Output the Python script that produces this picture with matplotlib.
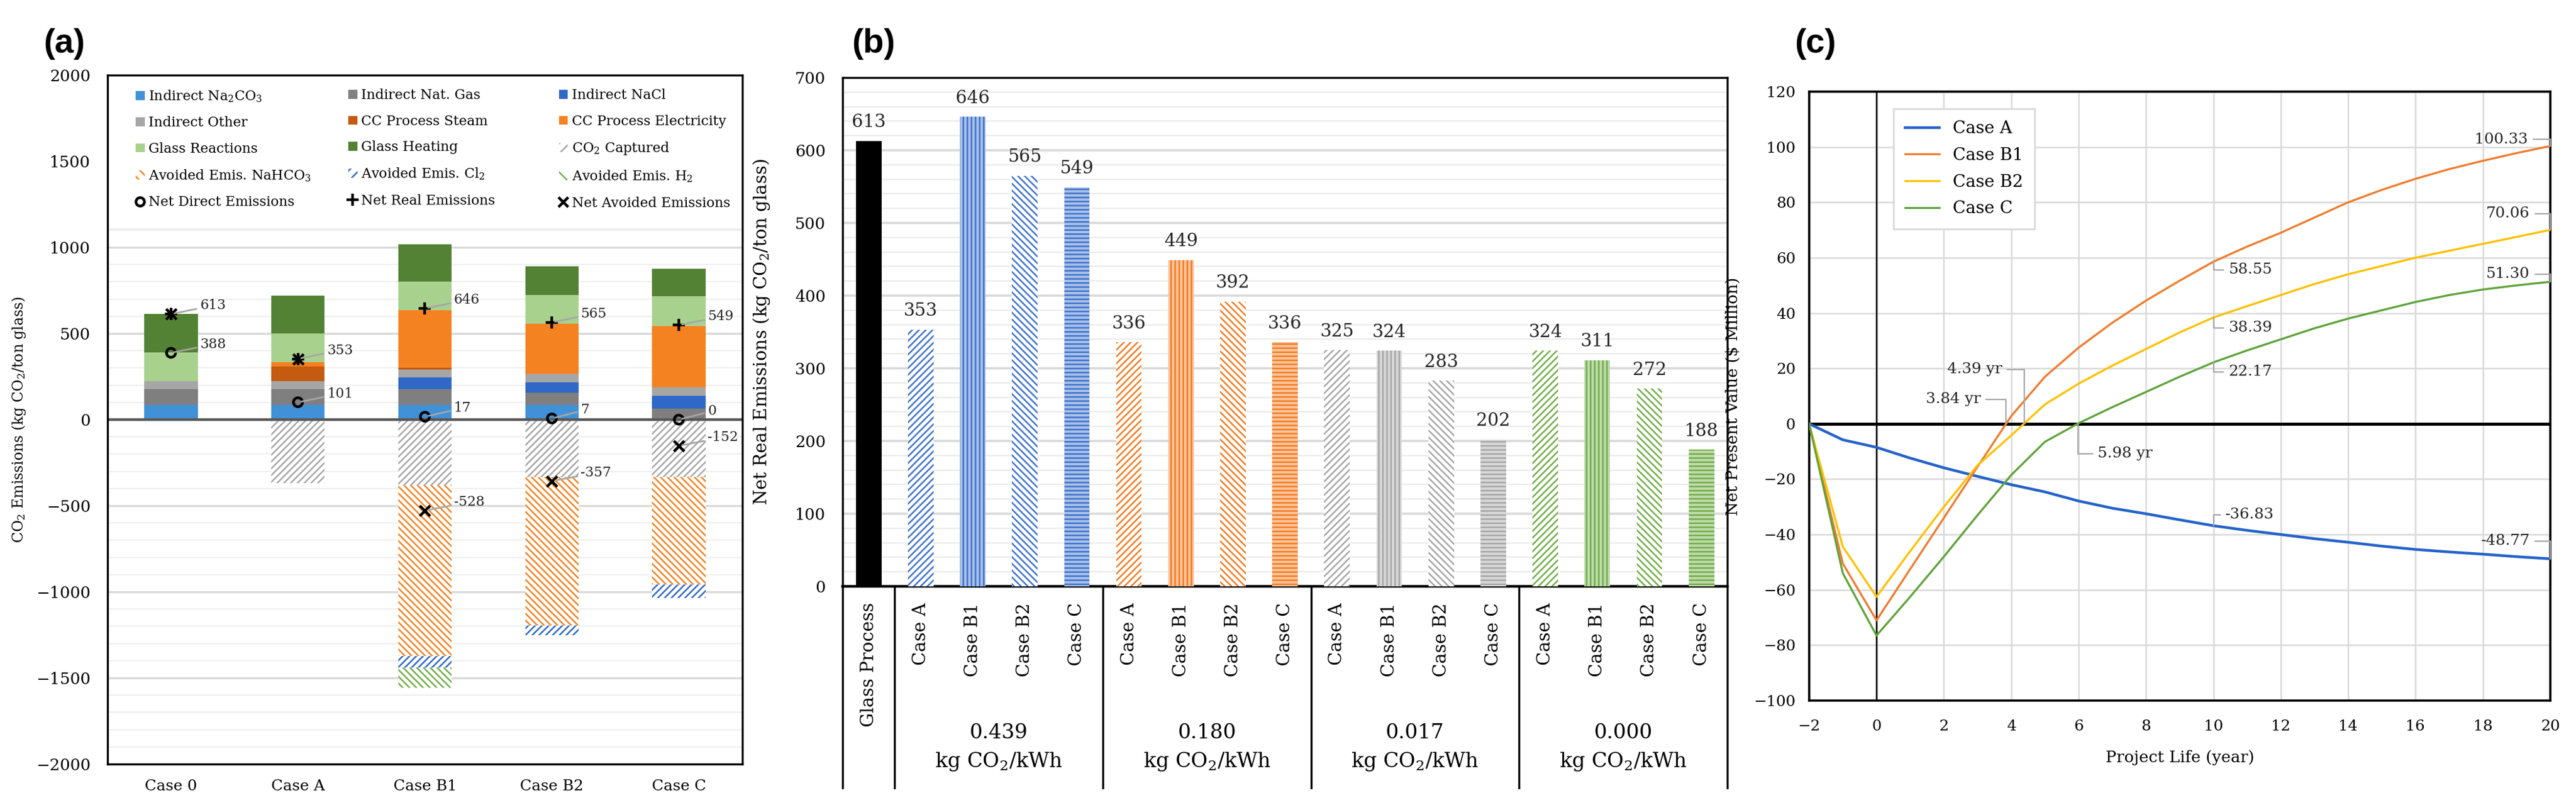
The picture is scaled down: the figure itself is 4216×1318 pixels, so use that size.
"""Three-panel CO2 emissions / net real emissions / NPV figure."""

import matplotlib

matplotlib.use("Agg")
import matplotlib.pyplot as plt
import numpy as np
from matplotlib.colors import to_rgb
from matplotlib.lines import Line2D
from matplotlib.patches import Patch, Rectangle
from matplotlib.ticker import MultipleLocator

plt.rcParams["font.family"] = ["DejaVu Serif"]
plt.rcParams["mathtext.fontset"] = "dejavuserif"
plt.rcParams["hatch.linewidth"] = 0.9

# ---------------- panel (a): stacked emissions breakdown ----------------
cases_a = ["Case 0", "Case A", "Case B1", "Case B2", "Case C"]
indirect_na2co3 = [86, 86, 86, 86, 0]
indirect_natgas = [91, 91, 91, 71, 63]
indirect_nacl = [0, 0, 69, 59, 77]
indirect_other = [45, 45, 45, 50, 47]
cc_steam = [0, 86, 11, 0, 0]
cc_electricity = [0, 26, 332, 290, 357]
glass_reactions = [169, 168, 168, 169, 174]
glass_heating = [222, 219, 215, 165, 158]
co2_captured = [0, -368, -383, -334, -334]
avoided_nahco3 = [0, 0, -990, -860, -623]
avoided_cl2 = [0, 0, -66, -59, -80]
avoided_h2 = [0, 0, -117, 0, 0]
net_direct = [388, 101, 17, 7, 0]
net_real = [613, 353, 646, 565, 549]
net_avoided = [613, 353, -528, -357, -152]

# ---------------- panel (b): net real emissions by grid intensity ----------------
glass_process_label = "Glass Process"
glass_process_value = 613
grid_factors = ["0.439", "0.180", "0.017", "0.000"]
case_names = ["Case A", "Case B1", "Case B2", "Case C"]
net_real_by_factor = [
    [353, 646, 565, 549],
    [336, 449, 392, 336],
    [325, 324, 283, 202],
    [324, 311, 272, 188],
]

# ---------------- panel (c): net present value ----------------
years = list(range(-2, 21))
npv_case_a = [0, -5.8, -8.5, -12.4, -15.9, -19.0, -22.0, -24.6, -27.9, -30.5, -32.5, -34.7,
              -36.83, -38.5, -40.0, -41.5, -42.8, -44.2, -45.4, -46.3, -47.1, -48.0, -48.77]
npv_case_b1 = [0, -50.5, -71.0, -52.5, -34.0, -15.5, 2.8, 17.0, 27.5, 36.5, 44.5, 51.7,
               58.55, 64.0, 69.0, 74.5, 80.0, 84.5, 88.5, 92.0, 95.0, 97.8, 100.33]
npv_case_b2 = [0, -44.4, -62.5, -46.0, -30.0, -15.0, -4.2, 7.0, 14.5, 21.0, 27.0, 33.0,
               38.39, 42.5, 46.5, 50.5, 54.0, 57.0, 60.0, 62.5, 65.0, 67.5, 70.06]
npv_case_c = [0, -54.0, -76.5, -62.5, -48.0, -33.0, -18.5, -6.5, 0.2, 6.0, 11.5, 17.0,
              22.17, 26.5, 30.5, 34.5, 38.0, 41.0, 44.0, 46.5, 48.5, 50.0, 51.30]
payback_years = {"Case B1": 3.84, "Case B2": 4.39, "Case C": 5.98}


def _tint(colour, amount=0.55):
    r, g, b = to_rgb(colour)
    return (r + (1 - r) * amount, g + (1 - g) * amount, b + (1 - b) * amount)


def _panel_a_legend_rows():
    swatch = dict(linewidth=0)
    return [
        Patch(facecolor="#4191D8", label="Indirect Na$_2$CO$_3$", **swatch),
        Patch(facecolor="#7F7F7F", label="Indirect Nat. Gas", **swatch),
        Patch(facecolor="#2F68C6", label="Indirect NaCl", **swatch),
        Patch(facecolor="#A6A6A6", label="Indirect Other", **swatch),
        Patch(facecolor="#C55A11", label="CC Process Steam", **swatch),
        Patch(facecolor="#F58220", label="CC Process Electricity", **swatch),
        Patch(facecolor="#A9D18E", label="Glass Reactions", **swatch),
        Patch(facecolor="#548235", label="Glass Heating", **swatch),
        Patch(facecolor="white", edgecolor="#A6A6A6", hatch="////", linewidth=0,
              label="CO$_2$ Captured"),
        Patch(facecolor="white", edgecolor="#F58220", hatch="\\\\\\\\", linewidth=0,
              label="Avoided Emis. NaHCO$_3$"),
        Patch(facecolor="white", edgecolor="#2F68C6", hatch="////", linewidth=0,
              label="Avoided Emis. Cl$_2$"),
        Patch(facecolor="white", edgecolor="#70AD47", hatch="\\\\\\\\", linewidth=0,
              label="Avoided Emis. H$_2$"),
        Line2D([0], [0], marker="o", color="none", markerfacecolor="none",
               markeredgecolor="black", markeredgewidth=1.6, markersize=5,
               label="Net Direct Emissions"),
        Line2D([0], [0], marker="+", color="none", markeredgecolor="black",
               markeredgewidth=1.6, markersize=7, label="Net Real Emissions"),
        Line2D([0], [0], marker="x", color="none", markeredgecolor="black",
               markeredgewidth=1.6, markersize=6, label="Net Avoided Emissions"),
    ]


def draw_panel_a(ax):
    x = np.arange(len(cases_a))
    width = 0.42
    positive = [
        (indirect_na2co3, "#4191D8"),
        (indirect_natgas, "#7F7F7F"),
        (indirect_nacl, "#2F68C6"),
        (indirect_other, "#A6A6A6"),
        (cc_steam, "#C55A11"),
        (cc_electricity, "#F58220"),
        (glass_reactions, "#A9D18E"),
        (glass_heating, "#548235"),
    ]
    negative = [
        (co2_captured, "#A6A6A6", "//////"),
        (avoided_nahco3, "#F58220", "\\\\\\\\\\\\"),
        (avoided_cl2, "#2F68C6", "//////"),
        (avoided_h2, "#70AD47", "\\\\\\\\\\\\"),
    ]
    bottom = np.zeros(len(cases_a))
    for values, colour in positive:
        values = np.asarray(values, dtype=float)
        ax.bar(x, values, width, bottom=bottom, color=colour, linewidth=0, zorder=3)
        bottom += values
    bottom = np.zeros(len(cases_a))
    for values, colour, hatch in negative:
        values = np.asarray(values, dtype=float)
        ax.bar(x, values, width, bottom=bottom, facecolor="white", edgecolor=colour,
               hatch=hatch, linewidth=0, zorder=3)
        bottom += values

    ax.scatter(x, net_direct, marker="o", s=28, facecolor="none", edgecolor="black",
               linewidth=1.6, zorder=5)
    ax.scatter(x, net_real, marker="+", s=55, color="black", linewidth=1.6, zorder=5)
    ax.scatter(x, net_avoided, marker="x", s=38, color="black", linewidth=1.6, zorder=5)

    # value labels with leader lines
    leader = dict(arrowstyle="-", color="#A6A6A6", lw=1.0, shrinkA=0, shrinkB=2)
    for i in range(len(cases_a)):
        shown = [net_real[i], net_direct[i]]
        if net_avoided[i] != net_real[i]:
            shown.append(net_avoided[i])
        for v in shown:
            ax.annotate(f"{v}", (x[i], v), xytext=(17, 5), textcoords="offset points",
                        ha="left", va="center", fontsize=8, color="#262626",
                        arrowprops=leader, zorder=6)

    ax.set_xlim(-0.5, len(cases_a) - 0.5)
    ax.set_ylim(-2000, 2000)
    ax.set_xticks(x)
    ax.set_xticklabels(cases_a, fontsize=9)
    ax.yaxis.set_major_locator(MultipleLocator(500))
    ax.yaxis.set_minor_locator(MultipleLocator(100))
    ax.tick_params(axis="y", which="both", length=0, pad=10, labelsize=9.5)
    ax.tick_params(axis="x", length=0, pad=9)
    ax.grid(axis="y", which="major", color="#D9D9D9", lw=1.2, zorder=0)
    ax.grid(axis="y", which="minor", color="#EFEFEF", lw=0.8, zorder=0)
    ax.axhline(0, color="#595959", lw=1.6, zorder=4)
    for spine in ax.spines.values():
        spine.set_color("black")
        spine.set_linewidth(1.2)
        spine.set_zorder(8)
    ax.set_ylabel("CO$_2$ Emissions (kg CO$_2$/ton glass)", fontsize=8.5)
    ax.yaxis.set_label_coords(-0.126, 0.5)

    # legend block across the top of the plot area
    legend_height = 0.2234
    ax.add_patch(Rectangle((0, 1 - legend_height), 1, legend_height, transform=ax.transAxes,
                           facecolor="white", edgecolor="none", zorder=6))
    ax.plot([0.005, 0.995], [1 - legend_height] * 2, transform=ax.transAxes,
            color="#EDEDED", lw=1.2, zorder=6)
    rows = _panel_a_legend_rows()
    ncol = 3
    column_x = [0.023, 0.358, 0.690]
    for c in range(ncol):
        handles = rows[c::ncol]
        leg = ax.legend(handles=handles, loc="upper left",
                        bbox_to_anchor=(column_x[c], 1.0), borderaxespad=0,
                        fontsize=8, handlelength=0.65, handleheight=0.65,
                        handletextpad=0.3, labelspacing=0.92, borderpad=1.0,
                        frameon=False)
        leg.set_zorder(7)
        if c < ncol - 1:
            ax.add_artist(leg)


def draw_panel_b(ax):
    width = 0.49
    group_colours = ["#3D72CC", "#F47B20", "#A6A6A6", "#70AD47"]
    case_hatches = ["//////", "|||||", "\\\\\\\\\\\\", "-----"]
    tinted = [False, True, False, True]

    ax.bar(0, glass_process_value, width, color="black", zorder=3)
    ax.annotate(f"{glass_process_value}", (0, glass_process_value), xytext=(0, 6),
                textcoords="offset points", ha="center", va="bottom", fontsize=10.5,
                color="#262626")
    xaxis = ax.get_xaxis_transform()
    ax.text(0, -0.032, glass_process_label, transform=xaxis, rotation=90,
            ha="center", va="top", fontsize=10.5)

    for gi, values in enumerate(net_real_by_factor):
        colour = group_colours[gi]
        for ci, v in enumerate(values):
            pos = 1 + gi * len(case_names) + ci
            face = _tint(colour) if tinted[ci] else "white"
            ax.bar(pos, v, width, facecolor=face, edgecolor=colour,
                   hatch=case_hatches[ci], linewidth=0, zorder=3)
            ax.annotate(f"{v}", (pos, v), xytext=(0, 6), textcoords="offset points",
                        ha="center", va="bottom", fontsize=10.5, color="#262626")
            ax.text(pos, -0.032, case_names[ci], transform=xaxis, rotation=90,
                    ha="center", va="top", fontsize=10.5)
        centre = 1 + gi * len(case_names) + (len(case_names) - 1) / 2
        ax.text(centre, -0.288, grid_factors[gi], transform=xaxis, ha="center",
                va="center", fontsize=12)
        ax.text(centre, -0.345, "kg CO$_2$/kWh", transform=xaxis, ha="center",
                va="center", fontsize=12)

    n_bars = 1 + len(grid_factors) * len(case_names)
    separators = [-0.5, 0.5] + [0.5 + len(case_names) * (g + 1) for g in range(len(grid_factors))]
    for sx in separators:
        ax.plot([sx, sx], [0, -0.396], transform=xaxis, color="black", lw=1.2,
                clip_on=False, zorder=4)

    ax.set_xlim(-0.5, n_bars - 0.5)
    ax.set_ylim(0, 700)
    ax.set_xticks([])
    ax.yaxis.set_major_locator(MultipleLocator(100))
    ax.yaxis.set_minor_locator(MultipleLocator(20))
    ax.tick_params(axis="y", which="both", length=0, pad=10, labelsize=9.5)
    ax.grid(axis="y", which="major", color="#D9D9D9", lw=1.3, zorder=0)
    ax.grid(axis="y", which="minor", color="#EBEBEB", lw=0.8, zorder=0)
    for spine in ax.spines.values():
        spine.set_color("black")
        spine.set_linewidth(1.2)
    ax.spines["bottom"].set_linewidth(1.6)
    ax.set_ylabel("Net Real Emissions (kg CO$_2$/ton glass)", fontsize=10.5)
    ax.yaxis.set_label_coords(-0.080, 0.5)


def draw_panel_c(ax):
    series = [
        ("Case A", npv_case_a, "#2563C9", 1.6),
        ("Case B1", npv_case_b1, "#F07C2E", 1.2),
        ("Case B2", npv_case_b2, "#FFC000", 1.2),
        ("Case C", npv_case_c, "#5FA33A", 1.2),
    ]
    for name, values, colour, lw in series:
        ax.plot(years, values, color=colour, lw=lw, label=name, zorder=4)

    leader = dict(arrowstyle="-", color="#A6A6A6", lw=0.8, shrinkA=1, shrinkB=0,
                  connectionstyle="angle,angleA=0,angleB=90,rad=0")
    end_offsets = {"Case A": (-12, 10.4), "Case B1": (-13, 4), "Case B2": (-12, 9.6),
                   "Case C": (-12, 4.5)}
    mid_offsets = {"Case A": (7, 6.4), "Case B1": (9, -4.8), "Case B2": (9, -6),
                   "Case C": (9, -5.5)}
    pay_offsets = {"Case B1": ((-14.8, 14.4), "right"), "Case B2": ((-13, 32), "right"),
                   "Case C": ((11.7, -17.6), "left")}
    label_style = dict(textcoords="offset points", va="center", fontsize=9,
                       color="#262626", arrowprops=leader, zorder=6)
    for name, values, _, _ in series:
        ax.annotate(f"{values[-1]:.2f}", (years[-1], values[-1]),
                    xytext=end_offsets[name], ha="right", **label_style)
        i10 = years.index(10)
        ax.annotate(f"{values[i10]:.2f}", (10, values[i10]),
                    xytext=mid_offsets[name], ha="left", **label_style)
        if name in payback_years:
            offset, ha = pay_offsets[name]
            ax.annotate(f"{payback_years[name]:.2f} yr", (payback_years[name], 0),
                        xytext=offset, ha=ha, **label_style)

    ax.set_xlim(-2, 20)
    ax.set_ylim(-100, 120)
    ax.xaxis.set_major_locator(MultipleLocator(2))
    ax.yaxis.set_major_locator(MultipleLocator(20))
    ax.tick_params(axis="both", length=0, labelsize=9)
    ax.tick_params(axis="x", pad=11)
    ax.tick_params(axis="y", pad=8)
    ax.grid(color="#D9D9D9", lw=0.9, zorder=0)
    ax.axhline(0, color="black", lw=1.8, zorder=3)
    ax.axvline(0, color="black", lw=0.9, zorder=3)
    for spine in ax.spines.values():
        spine.set_color("black")
        spine.set_linewidth(1.3)
    ax.set_xlabel("Project Life (year)", fontsize=9.5, labelpad=10)
    ax.set_ylabel("Net Present Value ($ Million)", fontsize=9.5)
    ax.yaxis.set_label_coords(-0.092, 0.5)
    ax.legend(loc="upper left", bbox_to_anchor=(0.102, 0.986), fontsize=10,
              frameon=True, fancybox=False, edgecolor="#D9D9D9", framealpha=1,
              handlelength=2.0, borderpad=0.7, labelspacing=0.6)


fig = plt.figure(figsize=(21.08, 6.59), dpi=200)
ax_a = fig.add_axes([0.04175, 0.0508, 0.2464, 0.8558])
ax_b = fig.add_axes([0.3271, 0.2716, 0.3435, 0.6320])
ax_c = fig.add_axes([0.7023, 0.1297, 0.2877, 0.7565])

draw_panel_a(ax_a)
draw_panel_b(ax_b)
draw_panel_c(ax_c)

panel_font = dict(fontsize=20, fontweight="bold", family=["Liberation Sans", "DejaVu Sans"],
                  ha="center", va="center")
fig.text(0.0249, 0.945, "(a)", **panel_font)
fig.text(0.3392, 0.945, "(b)", **panel_font)
fig.text(0.7047, 0.945, "(c)", **panel_font)

fig.savefig("out.png", dpi=200, facecolor="white")
plt.close(fig)
